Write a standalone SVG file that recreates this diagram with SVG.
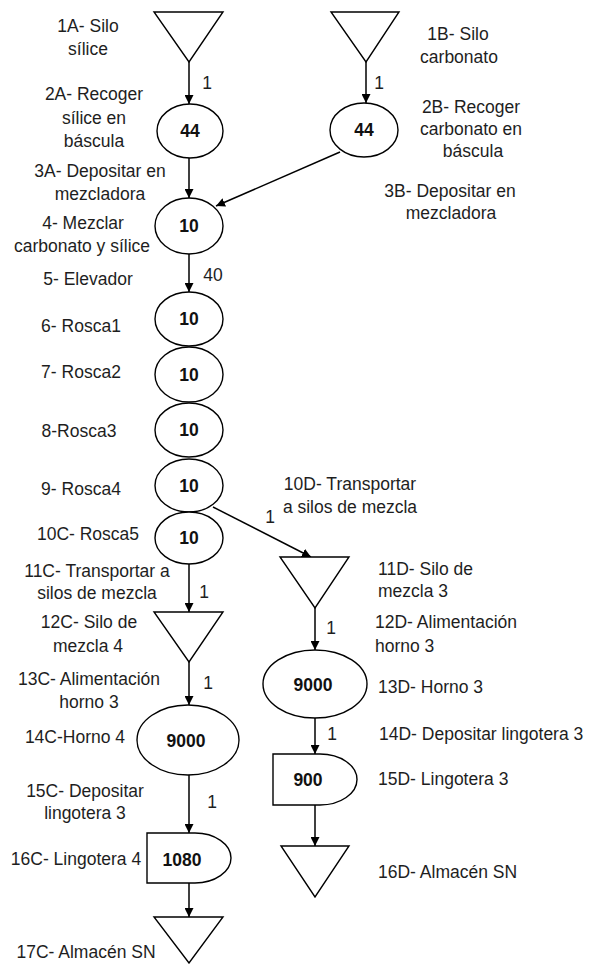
<svg xmlns="http://www.w3.org/2000/svg" width="590" height="964" viewBox="0 0 590 964">
<defs>
<marker id="arr" markerUnits="userSpaceOnUse" markerWidth="9" markerHeight="9" refX="9" refY="4.5" orient="auto">
<path d="M0,0 L9,4.5 L0,9 Z" fill="#000"/>
</marker>
<style>
.s{fill:#fff;stroke:#000;stroke-width:1.4}
.c{fill:none;stroke:#000;stroke-width:1.5}
text{font-family:"Liberation Sans",Arial,sans-serif;font-size:17.5px;fill:#1e1e1e}
.m{text-anchor:middle}
.n{font-weight:bold;text-anchor:middle;fill:#111}
</style>
</defs>
<rect width="590" height="964" fill="#fff"/>
<g id="connectors">
<line class="c" x1="189" y1="62" x2="189" y2="104" marker-end="url(#arr)"/>
<line class="c" x1="366" y1="62" x2="366" y2="103" marker-end="url(#arr)"/>
<line class="c" x1="189" y1="158" x2="189" y2="198" marker-end="url(#arr)"/>
<line class="c" x1="340" y1="152" x2="216" y2="206" marker-end="url(#arr)"/>
<line class="c" x1="189" y1="254" x2="189" y2="292" marker-end="url(#arr)"/>
<line class="c" x1="213" y1="507" x2="311" y2="557" marker-end="url(#arr)"/>
<line class="c" x1="189" y1="564" x2="189" y2="612" marker-end="url(#arr)"/>
<line class="c" x1="189" y1="662" x2="189" y2="705" marker-end="url(#arr)"/>
<line class="c" x1="189" y1="775" x2="189" y2="833" marker-end="url(#arr)"/>
<line class="c" x1="189" y1="883" x2="189" y2="917" marker-end="url(#arr)"/>
<line class="c" x1="315" y1="608" x2="315" y2="650" marker-end="url(#arr)"/>
<line class="c" x1="315" y1="718" x2="315" y2="754" marker-end="url(#arr)"/>
<line class="c" x1="315" y1="805" x2="315" y2="846" marker-end="url(#arr)"/>
<text x="207" y="89" class="m">1</text>
<text x="379" y="89" class="m">1</text>
<text x="213" y="281" class="m">40</text>
<text x="270" y="523" class="m">1</text>
<text x="204" y="598" class="m">1</text>
<text x="208" y="689" class="m">1</text>
<text x="212" y="808" class="m">1</text>
<text x="331" y="634" class="m">1</text>
<text x="332" y="740" class="m">1</text>
</g>
<g id="n1A"><polygon class="s" points="154,12 223,12 189,62"/><text x="88" y="32" class="m">1A- Silo</text><text x="88" y="55" class="m">sílice</text></g>
<g id="n1B"><polygon class="s" points="331,12 399,12 366,62"/><text x="458" y="40" class="m">1B- Silo</text><text x="459" y="63" class="m">carbonato</text></g>
<g id="n2A"><ellipse class="s" cx="190" cy="131" rx="33" ry="27"/><text x="190" y="137" class="n">44</text><text x="94" y="100" class="m">2A- Recoger</text><text x="94" y="124" class="m">sílice en</text><text x="94" y="147" class="m">báscula</text></g>
<g id="n2B"><ellipse class="s" cx="364" cy="130" rx="34" ry="27"/><text x="364" y="136" class="n">44</text><text x="471" y="113" class="m">2B- Recoger</text><text x="471" y="135" class="m">carbonato en</text><text x="473" y="157" class="m">báscula</text></g>
<g id="n3A"><text x="100" y="177" class="m">3A- Depositar en</text><text x="100" y="200" class="m">mezcladora</text></g>
<g id="n3B"><text x="450" y="197" class="m">3B- Depositar en</text><text x="451" y="219" class="m">mezcladora</text></g>
<g id="n4"><ellipse class="s" cx="189" cy="226" rx="34" ry="28"/><text x="189" y="232" class="n">10</text><text x="83" y="229" class="m">4- Mezclar</text><text x="82" y="252" class="m">carbonato y sílice</text></g>
<g id="n5"><text x="88" y="285" class="m">5- Elevador</text></g>
<g id="n6"><ellipse class="s" cx="189" cy="319" rx="34" ry="27"/><text x="189" y="325" class="n">10</text><text x="81" y="332" class="m">6- Rosca1</text></g>
<g id="n7"><ellipse class="s" cx="189" cy="374.5" rx="34" ry="27.5"/><text x="189" y="381" class="n">10</text><text x="81" y="378" class="m">7- Rosca2</text></g>
<g id="n8"><ellipse class="s" cx="189" cy="430" rx="34" ry="27"/><text x="189" y="436" class="n">10</text><text x="79" y="437" class="m">8-Rosca3</text></g>
<g id="n9"><ellipse class="s" cx="189" cy="485.5" rx="34" ry="26.5"/><text x="189" y="492" class="n">10</text><text x="81" y="495" class="m">9- Rosca4</text></g>
<g id="n10C"><ellipse class="s" cx="189" cy="538" rx="34" ry="26"/><text x="189" y="544" class="n">10</text><text x="88" y="540" class="m">10C- Rosca5</text></g>
<g id="n11C"><text x="97" y="577" class="m">11C- Transportar a</text><text x="97" y="599" class="m">silos de mezcla</text></g>
<g id="n12C"><polygon class="s" points="154,612 223,612 189,662"/><text x="89" y="628" class="m">12C- Silo de</text><text x="88" y="652" class="m">mezcla 4</text></g>
<g id="n13C"><text x="89" y="685" class="m">13C- Alimentación</text><text x="89" y="708" class="m">horno 3</text></g>
<g id="n14C"><ellipse class="s" cx="188" cy="740" rx="51" ry="35"/><text x="186" y="747" class="n">9000</text><text x="75" y="743" class="m">14C-Horno 4</text></g>
<g id="n15C"><text x="85" y="797" class="m">15C- Depositar</text><text x="85" y="819" class="m">lingotera 3</text></g>
<g id="n16C"><path class="s" d="M147,833 H195 A36,25 0 0 1 195,883 H147 Z"/><text x="182" y="866" class="n">1080</text><text x="76" y="865" class="m">16C- Lingotera 4</text></g>
<g id="n17C"><polygon class="s" points="154,917 223,917 189,963"/><text x="86" y="958" class="m">17C- Almacén SN</text></g>
<g id="n10D"><text x="350" y="490" class="m">10D- Transportar</text><text x="350" y="513" class="m">a silos de mezcla</text></g>
<g id="n11D"><polygon class="s" points="280,557 349,557 315,608"/><text x="378" y="575">11D- Silo de</text><text x="378" y="597">mezcla 3</text></g>
<g id="n12D"><text x="375" y="628">12D- Alimentación</text><text x="375" y="652">horno 3</text></g>
<g id="n13D"><ellipse class="s" cx="315" cy="684" rx="52" ry="34"/><text x="313" y="691" class="n">9000</text><text x="378" y="693">13D- Horno 3</text></g>
<g id="n14D"><text x="379" y="740">14D- Depositar lingotera 3</text></g>
<g id="n15D"><path class="s" d="M273,754 H320 A37,25.5 0 0 1 320,805 H273 Z"/><text x="308" y="786" class="n">900</text><text x="378" y="785">15D- Lingotera 3</text></g>
<g id="n16D"><polygon class="s" points="281,846 349,846 315,897"/><text x="378" y="878">16D- Almacén SN</text></g>
</svg>
